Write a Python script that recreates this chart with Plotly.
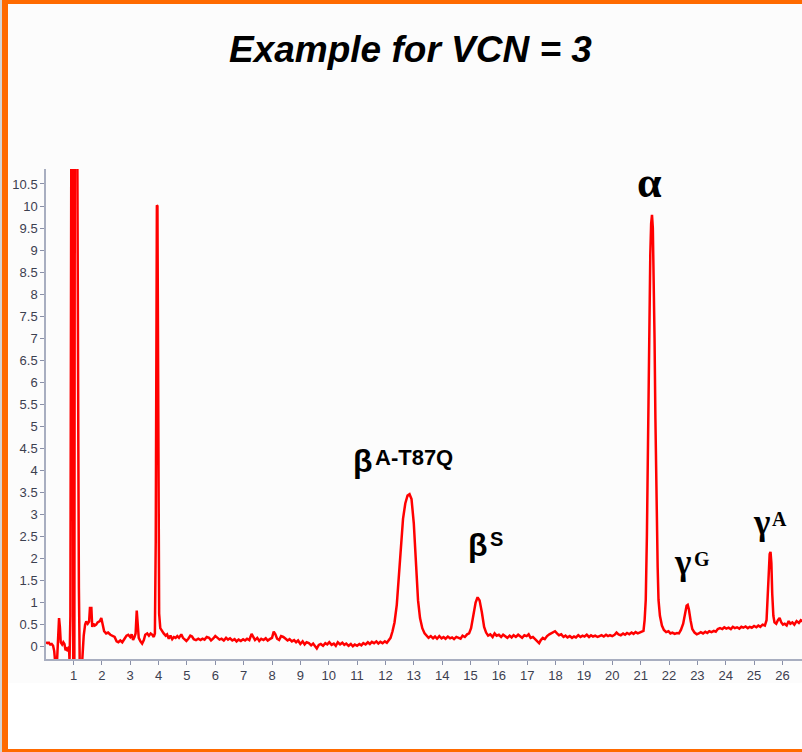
import plotly.graph_objects as go

# Retention time (min) and detector signal of the chromatogram trace
time_min = [
    0.03, 0.08, 0.13, 0.18, 0.23, 0.28, 0.32, 0.35, 0.42, 0.46, 0.49, 0.52, 0.55, 0.60, 0.64, 0.68,
    0.72, 0.76, 0.80, 0.84, 0.86, 0.89, 0.91, 0.93, 0.97, 0.99, 1.03, 1.05, 1.12, 1.14, 1.17, 1.19,
    1.22, 1.30, 1.36, 1.41, 1.45, 1.50, 1.55, 1.58, 1.63, 1.66, 1.70, 1.75, 1.80, 1.85, 1.93, 1.98,
    2.03, 2.08, 2.15, 2.22, 2.30, 2.38, 2.45, 2.52, 2.58, 2.65, 2.72, 2.80, 2.87, 2.93, 3.00, 3.05,
    3.10, 3.15, 3.19, 3.23, 3.26, 3.30, 3.36, 3.42, 3.48, 3.53, 3.60, 3.66, 3.72, 3.78, 3.83, 3.87,
    3.90, 3.92, 3.94, 3.96, 3.97, 3.99, 4.02, 4.06, 4.12, 4.18, 4.25, 4.30, 4.36, 4.42, 4.48, 4.54,
    4.60, 4.66, 4.72, 4.80, 4.86, 4.92, 4.98, 5.05, 5.12, 5.18, 5.24, 5.32, 5.40, 5.48, 5.55, 5.62,
    5.70, 5.78, 5.85, 5.92, 6.00, 6.08, 6.15, 6.22, 6.30, 6.38, 6.45, 6.52, 6.60, 6.68, 6.75, 6.82,
    6.90, 6.98, 7.05, 7.12, 7.20, 7.28, 7.34, 7.40, 7.48, 7.55, 7.62, 7.70, 7.78, 7.85, 7.92, 8.00,
    8.06, 8.12, 8.18, 8.25, 8.32, 8.40, 8.48, 8.55, 8.62, 8.70, 8.78, 8.85, 8.92, 9.00, 9.08, 9.15,
    9.22, 9.30, 9.38, 9.45, 9.52, 9.58, 9.65, 9.72, 9.80, 9.88, 9.95, 10.02, 10.10, 10.18, 10.25, 10.32,
    10.40, 10.48, 10.55, 10.62, 10.70, 10.78, 10.85, 10.92, 11.00, 11.08, 11.15, 11.22, 11.30, 11.38, 11.45, 11.52,
    11.60, 11.68, 11.75, 11.82, 11.90, 11.98, 12.05, 12.12, 12.18, 12.25, 12.32, 12.40, 12.48, 12.55, 12.62, 12.70,
    12.78, 12.85, 12.92, 13.00, 13.08, 13.15, 13.22, 13.30, 13.38, 13.45, 13.52, 13.60, 13.68, 13.75, 13.82, 13.90,
    13.98, 14.05, 14.12, 14.20, 14.28, 14.35, 14.42, 14.50, 14.58, 14.65, 14.72, 14.80, 14.88, 14.95, 15.02, 15.10,
    15.18, 15.25, 15.32, 15.40, 15.48, 15.55, 15.62, 15.70, 15.78, 15.85, 15.92, 16.00, 16.08, 16.15, 16.22, 16.30,
    16.38, 16.45, 16.52, 16.60, 16.68, 16.75, 16.82, 16.90, 16.98, 17.05, 17.12, 17.20, 17.28, 17.35, 17.42, 17.48,
    17.55, 17.62, 17.70, 17.78, 17.85, 17.92, 17.98, 18.05, 18.12, 18.20, 18.28, 18.35, 18.42, 18.50, 18.58, 18.65,
    18.72, 18.80, 18.88, 18.95, 19.02, 19.10, 19.18, 19.25, 19.32, 19.40, 19.48, 19.55, 19.62, 19.70, 19.78, 19.85,
    19.92, 20.00, 20.08, 20.15, 20.22, 20.30, 20.38, 20.45, 20.52, 20.60, 20.68, 20.75, 20.82, 20.90, 20.98, 21.05,
    21.10, 21.14, 21.18, 21.22, 21.26, 21.30, 21.34, 21.37, 21.40, 21.43, 21.46, 21.49, 21.52, 21.56, 21.60, 21.63,
    21.68, 21.75, 21.82, 21.90, 21.98, 22.05, 22.12, 22.20, 22.28, 22.35, 22.42, 22.50, 22.56, 22.62, 22.66, 22.70,
    22.76, 22.82, 22.90, 22.98, 23.05, 23.12, 23.20, 23.28, 23.35, 23.42, 23.50, 23.58, 23.65, 23.72, 23.80, 23.88,
    23.95, 24.02, 24.10, 24.18, 24.25, 24.32, 24.40, 24.48, 24.55, 24.62, 24.70, 24.78, 24.85, 24.92, 25.00, 25.08,
    25.15, 25.22, 25.30, 25.38, 25.44, 25.48, 25.52, 25.55, 25.58, 25.61, 25.64, 25.68, 25.72, 25.78, 25.84, 25.90,
    25.96, 26.02, 26.08, 26.15, 26.22, 26.28, 26.35, 26.42, 26.50, 26.58, 26.65, 26.72,
]
signal = [
    0.10, 0.08, 0.09, 0.05, 0.06, 0.02, -0.10, -0.32, -0.32, 0.30, 0.65, 0.45, 0.10, 0.05, 0.10, 0.06,
    -0.08, -0.05, -0.10, 0.00, -0.32, 0.70, 4.80, 14.0, 14.0, -0.40, -0.40, 14.0, 14.0, 6.10, 4.55, 1.35,
    -0.40, -0.40, 0.25, 0.50, 0.57, 0.52, 0.57, 0.88, 0.88, 0.45, 0.52, 0.48, 0.50, 0.55, 0.58, 0.65,
    0.45, 0.35, 0.30, 0.32, 0.27, 0.25, 0.22, 0.12, 0.10, 0.14, 0.10, 0.18, 0.25, 0.27, 0.22, 0.28,
    0.15, 0.22, 0.30, 0.82, 0.55, 0.20, 0.12, 0.07, 0.15, 0.27, 0.30, 0.25, 0.30, 0.27, 0.22, 0.30,
    2.40, 9.00, 10.02, 10.00, 7.55, 2.25, 0.75, 0.42, 0.35, 0.30, 0.25, 0.28, 0.18, 0.25, 0.17, 0.22,
    0.20, 0.24, 0.20, 0.28, 0.20, 0.17, 0.13, 0.18, 0.25, 0.23, 0.17, 0.15, 0.18, 0.15, 0.18, 0.16,
    0.22, 0.20, 0.14, 0.18, 0.24, 0.20, 0.16, 0.18, 0.14, 0.20, 0.16, 0.19, 0.14, 0.17, 0.12, 0.16,
    0.13, 0.17, 0.14, 0.18, 0.15, 0.29, 0.22, 0.15, 0.20, 0.13, 0.18, 0.15, 0.19, 0.14, 0.17, 0.20,
    0.34, 0.28, 0.18, 0.15, 0.24, 0.22, 0.18, 0.14, 0.17, 0.12, 0.15, 0.10, 0.14, 0.06, 0.12, 0.05,
    0.10, 0.08, 0.03, 0.07, 0.01, -0.04, 0.04, 0.06, 0.02, 0.08, 0.05, 0.10, 0.04, 0.07, 0.02, 0.10,
    0.05, 0.09, 0.04, 0.07, 0.02, 0.06, 0.01, 0.05, 0.02, 0.06, 0.03, 0.08, 0.05, 0.10, 0.06, 0.11,
    0.08, 0.12, 0.07, 0.11, 0.08, 0.12, 0.09, 0.14, 0.20, 0.35, 0.55, 0.95, 1.60, 2.30, 2.90, 3.25,
    3.43, 3.46, 3.35, 2.80, 1.85, 1.05, 0.65, 0.42, 0.30, 0.25, 0.20, 0.24, 0.19, 0.23, 0.18, 0.24,
    0.19, 0.22, 0.18, 0.23, 0.19, 0.21, 0.17, 0.22, 0.20, 0.18, 0.25, 0.22, 0.28, 0.30, 0.42, 0.72,
    1.00, 1.12, 1.05, 0.78, 0.45, 0.32, 0.25, 0.28, 0.22, 0.30, 0.25, 0.27, 0.22, 0.27, 0.24, 0.20,
    0.25, 0.21, 0.26, 0.22, 0.27, 0.23, 0.20, 0.26, 0.24, 0.28, 0.20, 0.22, 0.17, 0.13, 0.08, 0.15,
    0.20, 0.17, 0.24, 0.28, 0.30, 0.33, 0.35, 0.30, 0.26, 0.28, 0.22, 0.25, 0.21, 0.24, 0.20, 0.23,
    0.21, 0.26, 0.22, 0.25, 0.23, 0.27, 0.22, 0.26, 0.23, 0.25, 0.22, 0.24, 0.26, 0.23, 0.27, 0.24,
    0.26, 0.24, 0.27, 0.32, 0.28, 0.26, 0.30, 0.27, 0.31, 0.28, 0.32, 0.29, 0.33, 0.30, 0.32, 0.34,
    0.36, 0.60, 1.06, 2.50, 5.00, 7.20, 8.90, 9.60, 9.80, 9.50, 8.50, 7.00, 5.20, 3.20, 1.80, 1.06,
    0.70, 0.48, 0.38, 0.33, 0.35, 0.30, 0.32, 0.29, 0.31, 0.30, 0.38, 0.52, 0.75, 0.93, 0.95, 0.85,
    0.60, 0.40, 0.32, 0.28, 0.30, 0.33, 0.30, 0.34, 0.31, 0.35, 0.33, 0.36, 0.34, 0.40, 0.42, 0.40,
    0.44, 0.41, 0.43, 0.40, 0.45, 0.42, 0.44, 0.41, 0.45, 0.43, 0.46, 0.42, 0.45, 0.43, 0.47, 0.44,
    0.48, 0.45, 0.50, 0.48, 0.60, 1.10, 1.80, 2.10, 2.15, 1.90, 1.20, 0.70, 0.55, 0.52, 0.60, 0.65,
    0.55, 0.50, 0.52, 0.48, 0.58, 0.52, 0.55, 0.50, 0.58, 0.54, 0.60, 0.57,
]

# Axis ticks
x_ticks = list(range(1, 27))
y_tick_vals = [i * 0.5 for i in range(22)]
y_tick_text = ["0", "0.5", "1", "1.5", "2", "2.5", "3", "3.5", "4", "4.5", "5", "5.5",
               "6", "6.5", "7", "7.5", "8", "8.5", "9", "9.5", "10", "10.5"]

# Peak labels: text, time, signal, vertical anchor, font family, font size
SANS = "Liberation Sans, Arial"
SERIF = "Liberation Serif, Times New Roman"
peak_labels = [
    ("β", 10.77, 4.67, "top", SANS, 32),
    ("A-T87Q", 11.55, 4.63, "top", SANS, 22),
    ("β", 14.85, 2.76, "top", SANS, 32),
    ("S", 15.62, 2.74, "top", SANS, 20),
    ("α", 20.80, 9.93, "bottom", SERIF, 44),
    ("γ", 22.12, 2.40, "top", SERIF, 35),
    ("G", 22.80, 2.29, "top", SERIF, 20),
    ("γ", 24.90, 3.30, "top", SERIF, 35),
    ("A", 25.56, 3.19, "top", SERIF, 20),
]

W, H = 802, 752
ORANGE = "#ff6a00"

fig = go.Figure()
fig.add_trace(go.Scatter(
    x=time_min, y=signal, mode="lines",
    line=dict(color="#ff0000", width=2.5),
    hoverinfo="skip", showlegend=False,
))

annotations = []
for text, t, v, yanchor, family, size in peak_labels:
    annotations.append(dict(
        x=t, y=v, xref="x", yref="y", text=text, showarrow=False,
        xanchor="left", yanchor=yanchor,
        font=dict(family=family, size=size, color="#000000", weight="bold"),
    ))

annotations.append(dict(
    x=410 / W, y=1 - 50 / H, xref="paper", yref="paper",
    text="Example for VCN = 3", showarrow=False,
    xanchor="center", yanchor="middle",
    font=dict(family=SANS, size=37, color="#000000", weight="bold", style="italic"),
))

shapes = [
    # light panel behind the chart
    dict(type="rect", xref="paper", yref="paper", x0=8 / W, x1=1, y0=1 - 683 / H, y1=1 - 4 / H,
         fillcolor="#fcfcfc", line=dict(width=0), layer="below"),
    # slide frame
    dict(type="rect", xref="paper", yref="paper", x0=0, x1=2 / W, y0=0, y1=1,
         fillcolor="#d4d4d4", line=dict(width=0), layer="above"),
    dict(type="rect", xref="paper", yref="paper", x0=2 / W, x1=8 / W, y0=0, y1=1,
         fillcolor=ORANGE, line=dict(width=0), layer="above"),
    dict(type="rect", xref="paper", yref="paper", x0=2 / W, x1=1, y0=1 - 4 / H, y1=1,
         fillcolor=ORANGE, line=dict(width=0), layer="above"),
    dict(type="rect", xref="paper", yref="paper", x0=2 / W, x1=1, y0=0, y1=1 - 749 / H,
         fillcolor=ORANGE, line=dict(width=0), layer="above"),
]

axis_font = dict(family=SANS, size=13, color="#3c4050")

fig.update_layout(
    width=W, height=H,
    margin=dict(l=0, r=0, t=0, b=0, autoexpand=False),
    paper_bgcolor="#ffffff", plot_bgcolor="rgba(0,0,0,0)",
    annotations=annotations, shapes=shapes,
    xaxis=dict(
        domain=[46 / W, 1], range=[0.03, 26.69],
        tickvals=x_ticks, ticks="outside", ticklen=4, tickcolor="#8a90a8",
        showline=True, linecolor="#a8aec0", linewidth=1.5,
        showgrid=False, zeroline=False, tickfont=axis_font,
        fixedrange=True,
    ),
    yaxis=dict(
        domain=[1 - 659 / H, 1 - 169 / H], range=[-0.28, 10.84],
        tickvals=y_tick_vals, ticktext=y_tick_text,
        ticks="outside", ticklen=4, tickcolor="#8a90a8",
        showline=True, linecolor="#a8aec0", linewidth=1.5,
        showgrid=False, zeroline=False, tickfont=axis_font,
        fixedrange=True,
    ),
)

fig.write_html("out.html")
